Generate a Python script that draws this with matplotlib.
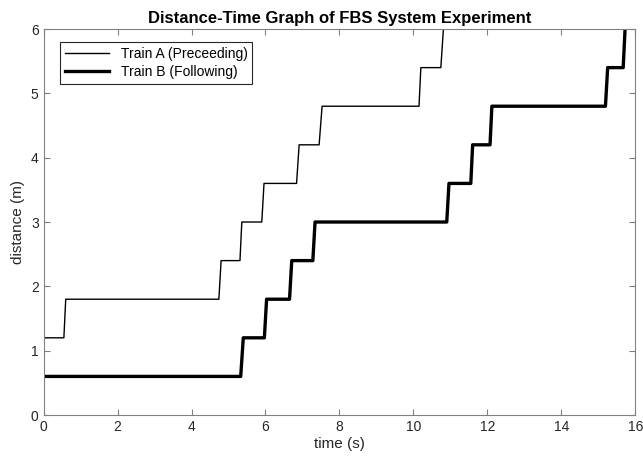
import matplotlib
matplotlib.use('Agg')
import matplotlib.pyplot as plt

# step data (time in s, distance in m)
time_a = [0, 0.55, 0.60, 4.74, 4.80, 5.31, 5.36, 5.90, 5.96, 6.84, 6.91,
          7.45, 7.53, 10.15, 10.20, 10.74, 10.81, 11.5]
dist_a = [1.2, 1.2, 1.8, 1.8, 2.4, 2.4, 3.0, 3.0, 3.6, 3.6, 4.2,
          4.2, 4.8, 4.8, 5.4, 5.4, 6.0, 6.0]

time_b = [0, 5.33, 5.40, 5.97, 6.03, 6.65, 6.71, 7.28, 7.34, 10.90, 10.96,
          11.55, 11.60, 12.07, 12.12, 15.19, 15.25, 15.67, 15.72]
dist_b = [0.6, 0.6, 1.2, 1.2, 1.8, 1.8, 2.4, 2.4, 3.0, 3.0, 3.6,
          3.6, 4.2, 4.2, 4.8, 4.8, 5.4, 5.4, 6.0]

plt.rcParams['font.family'] = ['Liberation Sans', 'DejaVu Sans']
plt.rcParams['axes.linewidth'] = 0.8
plt.rcParams['axes.edgecolor'] = '#808080'

fig = plt.figure(figsize=(6.43, 4.65), dpi=100)
ax = fig.add_axes([0.0677, 0.1075, 0.9205, 0.8301])

ax.plot(time_a, dist_a, color='black', lw=1.0, label='Train A (Preceeding)')
ax.plot(time_b, dist_b, color='black', lw=2.4, label='Train B (Following)')

ax.set_xlim(0, 16)
ax.set_ylim(0, 6)
ax.set_xticks(range(0, 17, 2))
ax.set_yticks(range(0, 7))
ax.tick_params(direction='in', top=True, right=True, labelsize=10,
               color='#808080', labelcolor='#262626', length=4, width=0.8)

ax.set_xlabel('time (s)', fontsize=11, color='#262626', labelpad=2)
ax.set_ylabel('distance (m)', fontsize=11, color='#262626', labelpad=4)
ax.set_title('Distance-Time Graph of FBS System Experiment',
             fontsize=12, fontweight='bold', pad=4)

leg = ax.legend(loc='upper left', fontsize=10, fancybox=False,
                edgecolor='#262626', framealpha=1, borderpad=0.35,
                labelspacing=0.3, handlelength=3.2, borderaxespad=0,
                bbox_to_anchor=(0.028, 0.967))
leg.get_frame().set_linewidth(0.8)

fig.savefig('out.png', dpi=100)
